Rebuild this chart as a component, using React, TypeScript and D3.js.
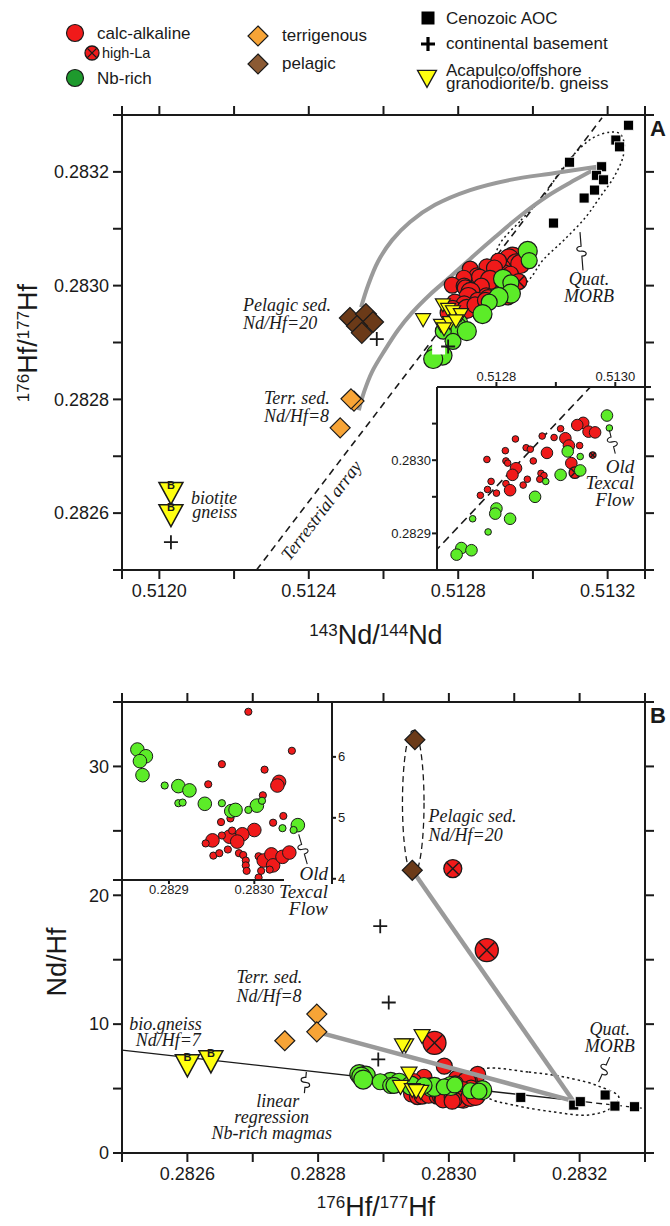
import React from "react";
import * as d3 from "d3";

type P2 = [number, number];
type P3 = [number, number, number];

// ================= Panel A : 143Nd/144Nd (x) vs 176Hf/177Hf (y) =================
// [Nd, Hf, large-symbol flag]
const calcAlkalineA: P3[] = [
  [0.512946, 0.283051, 1], [0.512936, 0.283048, 1], [0.512955, 0.283039, 1], [0.512966, 0.283038, 1],
  [0.512916, 0.28303, 1], [0.512922, 0.28302, 1], [0.512908, 0.283043, 0], [0.512877, 0.283033, 0],
  [0.512897, 0.283031, 0], [0.51294, 0.28302, 0], [0.512832, 0.283029, 0], [0.51285, 0.283017, 0],
  [0.512857, 0.283015, 0], [0.512885, 0.28301, 1], [0.512815, 0.283013, 0], [0.512784, 0.283001, 0],
  [0.512816, 0.282999, 0], [0.512819, 0.282996, 0], [0.512862, 0.282999, 0], [0.512926, 0.282996, 1],
  [0.512833, 0.282989, 1], [0.512827, 0.28298, 1], [0.512875, 0.282982, 0], [0.51288, 0.282979, 0],
  [0.512791, 0.282971, 0], [0.512852, 0.282974, 0], [0.512816, 0.282968, 0], [0.5128, 0.282955, 0],
  [0.512785, 0.28296, 0], [0.512773, 0.282952, 0], [0.512823, 0.282959, 1], [0.512845, 0.282966, 0],
  [0.512873, 0.282974, 0],
];
const highLaA: P3[] = [[0.512962, 0.283007, 0], [0.512932, 0.282983, 1]];
const nbRichA: P3[] = [
  [0.512986, 0.283061, 1], [0.51299, 0.283044, 0], [0.51292, 0.283012, 1], [0.512941, 0.283005, 0],
  [0.512941, 0.282986, 1], [0.512908, 0.28298, 1], [0.512883, 0.282971, 0], [0.512865, 0.28295, 1],
  [0.5128, 0.282934, 1], [0.512798, 0.282927, 1], [0.512823, 0.28292, 1], [0.51276, 0.28292, 0],
  [0.512786, 0.282902, 0], [0.512741, 0.28288, 1], [0.512758, 0.282877, 1], [0.512733, 0.282871, 1],
];
const acapulcoA: P2[] = [
  [0.512706, 0.282943], [0.512759, 0.282969], [0.512773, 0.282961], [0.512786, 0.282957],
  [0.512807, 0.282952], [0.512754, 0.282933], [0.512778, 0.282938], [0.512794, 0.282941],
  [0.512762, 0.282927],
];
const biotiteGneissA: P2[] = [[0.512031, 0.282641], [0.512031, 0.282602]];
const basementA: P2[] = [[0.512031, 0.282549], [0.512582, 0.282906], [0.512773, 0.282893]];
const aocA: P2[] = [
  [0.513256, 0.283282], [0.513222, 0.283256], [0.513232, 0.283244], [0.513098, 0.283217],
  [0.513184, 0.283209], [0.51317, 0.283194], [0.513189, 0.283186], [0.513165, 0.283168],
  [0.513137, 0.283154], [0.513055, 0.28311],
];
const terrigenousA: P2[] = [[0.512521, 0.282797], [0.512513, 0.282801], [0.512484, 0.28275]];
const pelagicA: P2[] = [
  [0.51251, 0.282943], [0.512553, 0.28295], [0.512572, 0.282936], [0.512529, 0.282929], [0.512542, 0.282917],
];
const pelagicMixA: P2[] = [
  [0.51254, 0.282962], [0.512559, 0.283001], [0.512585, 0.283042], [0.512623, 0.28308], [0.512671, 0.283112],
  [0.512738, 0.283142], [0.512832, 0.283168], [0.512939, 0.283186], [0.513059, 0.283198], [0.51318, 0.28321],
];
const terrMixA: P2[] = [
  [0.512534, 0.282781], [0.512548, 0.282813], [0.512569, 0.282848], [0.512604, 0.282887], [0.512639, 0.282922],
  [0.512676, 0.282952], [0.512724, 0.282984], [0.512778, 0.283015], [0.512837, 0.28305], [0.512898, 0.283085],
  [0.512965, 0.283122], [0.51304, 0.283158], [0.513113, 0.283186], [0.51318, 0.28321],
];
const morbFieldA: P2[] = [
  [0.512907, 0.283068], [0.512968, 0.283115], [0.513027, 0.283156], [0.513075, 0.283203], [0.513113, 0.283233],
  [0.513161, 0.28326], [0.513209, 0.28327], [0.513233, 0.283267], [0.513244, 0.283251], [0.513241, 0.283226],
  [0.513217, 0.283191], [0.51318, 0.283156], [0.513142, 0.283121], [0.513083, 0.28308], [0.513027, 0.283045],
  [0.512989, 0.28301], [0.512944, 0.282989], [0.512898, 0.283019],
];
const terrestrialArray: P2[] = [[0.51226, 0.2825], [0.513185, 0.283295]];

const ndTicksA = [0.5119, 0.512, 0.5122, 0.5124, 0.5126, 0.5128, 0.513, 0.5132, 0.5133];
const ndLabelsA = [0.512, 0.5124, 0.5128, 0.5132];
const hfTicksA = [0.2825, 0.2826, 0.2827, 0.2828, 0.2829, 0.283, 0.2831, 0.2832, 0.2833];
const hfLabelsA = [0.2826, 0.2828, 0.283, 0.2832];
const ndTicksInsetA = [0.5128, 0.5129, 0.513];
const ndLabelsInsetA = [0.5128, 0.513];
const hfTicksInsetA = [0.2829, 0.28295, 0.283, 0.28305];
const hfLabelsInsetA = [0.2829, 0.283];

// ================= Panel B : 176Hf/177Hf (x) vs Nd/Hf (y) =================
const calcAlkalineB: P3[] = [
  [0.282993, 6.74, 0], [0.283044, 6.1, 0], [0.282962, 5.88, 0], [0.283012, 5.79, 0], [0.282946, 5.55, 0],
  [0.283029, 5.59, 1], [0.283027, 5.53, 1], [0.28301, 5.37, 0], [0.283034, 5.03, 0], [0.283022, 4.92, 0],
  [0.282961, 4.93, 0], [0.282972, 4.99, 0], [0.283, 4.8, 1], [0.282986, 4.73, 1], [0.282971, 4.69, 1],
  [0.28298, 4.61, 1], [0.282951, 4.63, 1], [0.282943, 4.58, 0], [0.282962, 4.71, 0], [0.282974, 4.79, 0],
  [0.282952, 4.38, 0], [0.282959, 4.42, 0], [0.282969, 4.48, 0], [0.282982, 4.42, 0], [0.282987, 4.39, 0],
  [0.28299, 4.3, 0], [0.28299, 4.22, 0], [0.282991, 4.13, 0], [0.283005, 4.37, 0], [0.283011, 4.3, 1],
  [0.28302, 4.4, 1], [0.283022, 4.22, 1], [0.283018, 4.15, 0], [0.283008, 4.13, 0], [0.283005, 4.02, 0],
  [0.283033, 4.36, 1], [0.283041, 4.43, 1],
];
const highLaB: P3[] = [[0.283006, 22.07, 0], [0.283058, 15.74, 1], [0.282978, 8.55, 1]];
const nbRichB: P3[] = [
  [0.282863, 6.12, 1], [0.282873, 6.01, 1], [0.282866, 5.93, 1], [0.282869, 5.7, 1], [0.282911, 5.52, 1],
  [0.282924, 5.45, 1], [0.282942, 5.23, 1], [0.282973, 5.11, 1], [0.282978, 5.13, 1], [0.283003, 5.2, 1],
  [0.283051, 4.88, 1], [0.282895, 5.53, 0], [0.282911, 5.24, 0], [0.282916, 5.25, 0], [0.282962, 5.24, 0],
  [0.282993, 5.13, 0], [0.283009, 5.28, 0], [0.283033, 4.83, 0], [0.283046, 4.8, 0],
];
const acapulcoB: P2[] = [
  [0.282959, 9.22], [0.282934, 8.5], [0.282929, 8.5], [0.282939, 6.3], [0.282926, 5.27],
  [0.282944, 5.02], [0.282957, 4.88], [0.28295, 4.95],
];
const biotiteGneissB: P2[] = [[0.2826, 7.05], [0.282636, 7.36]];
const basementB: P2[] = [[0.282895, 17.6], [0.282908, 11.68], [0.282892, 7.26]];
const aocB: P2[] = [[0.28311, 4.32], [0.283191, 3.72], [0.283201, 3.98], [0.283239, 4.5], [0.283254, 3.64], [0.283284, 3.59]];
const terrigenousB: P2[] = [[0.282798, 10.78], [0.282798, 9.4], [0.282749, 8.71]];
const pelagicB: P2[] = [[0.282948, 32.07], [0.282944, 21.94]];
const pelagicMixB: P2[] = [[0.282944, 21.94], [0.28319, 4.05]];
const terrMixB: P2[] = [[0.282798, 9.4], [0.28319, 4.05]];
const regressionB: P2[] = [[0.2825, 7.98], [0.28321, 3.96], [0.2833, 3.45]];
const pelagicFieldB: P2[] = [[0.282929, 21.55], [0.282962, 32.8]];
const morbFieldB: P2[] = [
  [0.283049, 6.43], [0.283122, 6.28], [0.283185, 5.81], [0.283229, 5.19], [0.28326, 4.34], [0.283248, 3.49],
  [0.283214, 2.95], [0.283161, 3.18], [0.283099, 3.72], [0.283061, 4.26], [0.283043, 5.27],
];

const hfTicksB = [0.2825, 0.2826, 0.2827, 0.2828, 0.2829, 0.283, 0.2831, 0.2832, 0.2833];
const hfLabelsB = [0.2826, 0.2828, 0.283, 0.2832];
const ratioTicksB = [0, 5, 10, 15, 20, 25, 30, 35];
const ratioLabelsB = [0, 10, 20, 30];
const hfTicksInsetB = [0.2829, 0.283];
const ratioTicksInsetB = [4, 5, 6];

// ================= styles =================
const SANS = "'Liberation Sans', Arial, Helvetica, sans-serif";
const SERIF = "'Liberation Serif', 'Times New Roman', Times, serif";
const RED = "#f01a1a";
const GREEN = "#5cec28";
const LEG_GREEN = "#1e9a2d";
const YELLOW = "#ffff10";
const ORANGE = "#f7a436";
const BROWN = "#6b3a18";
const LEG_BROWN = "#8b5a33";
const GREY = "#9a9a9a";
const INK = "#1a1a1a";

const diamond = (s: number) => `M0,${-s}L${s},0L0,${s}L${-s},0Z`;
const triDown = (w: number, h: number) => `M${-w},${-h / 3}L${w},${-h / 3}L0,${(2 * h) / 3}Z`;
const plusPath = (s: number) => `M${-s},0H${s}M0,${-s}V${s}`;

function squiggle(x1: number, y1: number, x2: number, y2: number) {
  const dx = x2 - x1, dy = y2 - y1;
  const L = Math.hypot(dx, dy) || 1;
  const ux = dx / L, uy = dy / L, nx = -uy, ny = ux;
  const mx = (x1 + x2) / 2, my = (y1 + y2) / 2;
  const ax = mx - ux * 5, ay = my - uy * 5, bx = mx + ux * 5, by = my + uy * 5;
  return `M${x1},${y1}L${ax},${ay}C${ax + nx * 6},${ay + ny * 6} ${mx + nx * 6},${my + ny * 6} ${mx},${my}S${bx - nx * 6},${by - ny * 6} ${bx},${by}L${x2},${y2}`;
}

function HighLa({ x, y, r }: { x: number; y: number; r: number }) {
  const k = r * 0.66;
  return (
    <g transform={`translate(${x},${y})`}>
      <circle r={r} fill={RED} stroke={INK} strokeWidth={1.3} />
      <path d={`M${-k},${-k}L${k},${k}M${-k},${k}L${k},${-k}`} stroke={INK} strokeWidth={1.4} />
    </g>
  );
}

function BTri({ x, y }: { x: number; y: number }) {
  return (
    <g transform={`translate(${x},${y})`}>
      <path d={triDown(12, 22)} fill={YELLOW} stroke={INK} strokeWidth={1.5} />
      <text y={-1} textAnchor="middle" fontSize={11} fontWeight="bold" fill={INK} fontFamily={SANS}>B</text>
    </g>
  );
}

function Frame(props: any) {
  const { x0, x1, y0, y1, xs, ys, xt, yt, xl, yl, xFmt, yFmt } = props;
  const tick = 9;
  return (
    <g>
      <g stroke={INK} strokeWidth={2} fill="none">
        <rect x={x0} y={y0} width={x1 - x0} height={y1 - y0} />
        {xt.map((v: number, i: number) => (
          <g key={"x" + i}>
            <line x1={xs(v)} x2={xs(v)} y1={y0} y2={y0 - tick} />
            <line x1={xs(v)} x2={xs(v)} y1={y1} y2={y1 + tick} />
          </g>
        ))}
        {yt.map((v: number, i: number) => (
          <g key={"y" + i}>
            <line y1={ys(v)} y2={ys(v)} x1={x0} x2={x0 - tick} />
            <line y1={ys(v)} y2={ys(v)} x1={x1} x2={x1 + tick} />
          </g>
        ))}
      </g>
      <g fontFamily={SANS} fontSize={18} fill={INK}>
        {xl.map((v: number, i: number) => (
          <text key={"xl" + i} x={xs(v)} y={y1 + tick + 5} dy="0.71em" textAnchor="middle">{xFmt(v)}</text>
        ))}
        {yl.map((v: number, i: number) => (
          <text key={"yl" + i} x={x0 - tick - 4} y={ys(v)} dy="0.35em" textAnchor="end">{yFmt(v)}</text>
        ))}
      </g>
    </g>
  );
}

export default function App() {
  const xA = d3.scaleLinear().domain([0.5119, 0.5133]).range([122, 645]);
  const yA = d3.scaleLinear().domain([0.2825, 0.2833]).range([570, 115]);
  const xAi = d3.scaleLinear().domain([0.5127, 0.51305]).range([437, 645]);
  const yAi = d3.scaleLinear().domain([0.28285, 0.2831]).range([570, 387]);
  const xB = d3.scaleLinear().domain([0.2825, 0.2833]).range([122, 645]);
  const yB = d3.scaleLinear().domain([0, 35]).range([1153, 702]);
  const xBi = d3.scaleLinear().domain([0.282845, 0.283091]).range([122, 332]);
  const yBi = d3.scaleLinear().domain([3.98, 6.9]).range([880, 702]);

  const f4 = (v: number) => v.toFixed(4);
  const f0 = (v: number) => String(v);

  const lineA = d3.line<P2>().x((d) => xA(d[0])).y((d) => yA(d[1])).curve(d3.curveCatmullRom.alpha(0.5));
  const loopA = d3.line<P2>().x((d) => xA(d[0])).y((d) => yA(d[1])).curve(d3.curveCatmullRomClosed.alpha(0.5));
  const loopB = d3.line<P2>().x((d) => xB(d[0])).y((d) => yB(d[1])).curve(d3.curveCatmullRomClosed.alpha(0.5));
  const straightB = d3.line<P2>().x((d) => xB(d[0])).y((d) => yB(d[1]));

  // terrestrial array in pixels
  const ta0: P2 = [xA(terrestrialArray[0][0]), yA(terrestrialArray[0][1])];
  const ta1: P2 = [xA(terrestrialArray[1][0]), yA(terrestrialArray[1][1])];
  const taAngle = (Math.atan2(ta1[1] - ta0[1], ta1[0] - ta0[0]) * 180) / Math.PI;
  const taLabel: P2 = [xA(0.512433), yA(0.282605)];

  const annA = [
    { t: "Pelagic sed.", x: 0.512224, y: 0.282955 },
    { t: "Nd/Hf=20", x: 0.512224, y: 0.282924 },
    { t: "Terr. sed.", x: 0.51228, y: 0.282792 },
    { t: "Nd/Hf=8", x: 0.51228, y: 0.28276 },
    { t: "biotite", x: 0.512085, y: 0.282616 },
    { t: "gneiss", x: 0.512088, y: 0.282591 },
  ];
  const annB = [
    { t: "Pelagic sed.", x: 0.282969, y: 25.66 },
    { t: "Nd/Hf=20", x: 0.282969, y: 24.19 },
    { t: "Terr. sed.", x: 0.282675, y: 13.18 },
    { t: "Nd/Hf=8", x: 0.282675, y: 11.71 },
    { t: "bio.gneiss", x: 0.282511, y: 9.53 },
    { t: "Nd/Hf=7", x: 0.282521, y: 8.29 },
  ];

  const rBig = 9.5, rSmall = 8;
  const plusA = basementA[2];

  return (
    <svg width={670} height={1226} viewBox="0 0 670 1226"
      style={{ position: "absolute", left: 0, top: 0, background: "#fff" }} fontFamily={SANS}>
      <rect width={670} height={1226} fill="#fff" />
      <defs>
        <clipPath id="clipA"><rect x={122} y={115} width={523} height={455} /></clipPath>
        <clipPath id="clipAi"><rect x={437} y={387} width={208} height={183} /></clipPath>
        <clipPath id="clipB"><rect x={122} y={702} width={523} height={451} /></clipPath>
        <clipPath id="clipBi"><rect x={122} y={702} width={210} height={178} /></clipPath>
      </defs>

      {/* ---------------- Legend ---------------- */}
      <g fontSize={17} fill={INK}>
        <circle cx={75} cy={33} r={8.5} fill={RED} stroke={INK} strokeWidth={1.2} />
        <text x={97} y={33} dy="0.35em">calc-alkaline</text>
        <HighLa x={92} y={53} r={7} />
        <text x={102} y={53} dy="0.35em" fontSize={14.5}>high-La</text>
        <circle cx={75} cy={78} r={8.5} fill={LEG_GREEN} stroke={INK} strokeWidth={1.2} />
        <text x={97} y={78} dy="0.35em">Nb-rich</text>
        <path d={diamond(10)} transform="translate(258,36)" fill={ORANGE} stroke={INK} strokeWidth={1.2} />
        <text x={282} y={35} dy="0.35em">terrigenous</text>
        <path d={diamond(10)} transform="translate(258,64)" fill={LEG_BROWN} stroke={INK} strokeWidth={1.2} />
        <text x={282} y={63} dy="0.35em">pelagic</text>
        <rect x={421.5} y={11.5} width={13} height={13} fill="#000" />
        <text x={446} y={18} dy="0.35em">Cenozoic AOC</text>
        <path d={plusPath(7)} transform="translate(428,44)" stroke="#000" strokeWidth={3.2} />
        <text x={446} y={43} dy="0.35em">continental basement</text>
        <path d={triDown(9.5, 17)} transform="translate(427,76)" fill={YELLOW} stroke={INK} strokeWidth={1.3} />
        <text x={446} y={70} dy="0.35em">Acapulco/offshore</text>
        <text x={446} y={83.5} dy="0.35em">granodiorite/b. gneiss</text>
      </g>

      {/* ---------------- Panel A ---------------- */}
      <g clipPath="url(#clipA)">
        <line x1={ta0[0]} y1={ta0[1]} x2={ta1[0]} y2={ta1[1]} stroke={INK} strokeWidth={1.6} strokeDasharray="7,5" />
        <path d={loopA(morbFieldA) || ""} fill="none" stroke={INK} strokeWidth={1.5} strokeDasharray="2,3" />
        <path d={lineA(pelagicMixA) || ""} fill="none" stroke={GREY} strokeWidth={4} />
        <path d={lineA(terrMixA) || ""} fill="none" stroke={GREY} strokeWidth={4} />
      </g>
      <path d={squiggle(xA(0.513134), yA(0.283027), xA(0.513126), yA(0.283094))} fill="none" stroke={INK} strokeWidth={1.2} />
      {calcAlkalineA.map((d, i) => (
        <circle key={"ca" + i} cx={xA(d[0])} cy={yA(d[1])} r={d[2] ? rBig : rSmall} fill={RED} stroke={INK} strokeWidth={1.2} />
      ))}
      {highLaA.map((d, i) => <HighLa key={"hla" + i} x={xA(d[0])} y={yA(d[1])} r={d[2] ? rBig : rSmall} />)}
      {nbRichA.map((d, i) => (
        <circle key={"nb" + i} cx={xA(d[0])} cy={yA(d[1])} r={d[2] ? rBig : rSmall} fill={GREEN} stroke={INK} strokeWidth={1.2} />
      ))}
      {acapulcoA.map((d, i) => (
        <path key={"ac" + i} d={triDown(7.5, 13)} transform={`translate(${xA(d[0])},${yA(d[1])})`} fill={YELLOW} stroke={INK} strokeWidth={1.2} />
      ))}
      {terrigenousA.map((d, i) => (
        <path key={"tg" + i} d={diamond(10)} transform={`translate(${xA(d[0])},${yA(d[1])})`} fill={ORANGE} stroke={INK} strokeWidth={1.2} />
      ))}
      {pelagicA.map((d, i) => (
        <path key={"pg" + i} d={diamond(10.5)} transform={`translate(${xA(d[0])},${yA(d[1])})`} fill={BROWN} stroke={INK} strokeWidth={1.2} />
      ))}
      {biotiteGneissA.map((d, i) => <BTri key={"bg" + i} x={xA(d[0])} y={yA(d[1])} />)}
      <rect x={xA(plusA[0]) - 16} y={yA(plusA[1]) - 4} width={13} height={12} fill="#fff" />
      {basementA.map((d, i) => (
        <path key={"pl" + i} d={plusPath(7)} transform={`translate(${xA(d[0])},${yA(d[1])})`} stroke={INK} strokeWidth={1.8} />
      ))}
      {aocA.map((d, i) => (
        <rect key={"aoc" + i} x={xA(d[0]) - 5} y={yA(d[1]) - 5} width={10} height={10} fill="#000" stroke="#fff" strokeWidth={0.8} />
      ))}
      <g fontFamily={SERIF} fontStyle="italic" fontSize={18} fill={INK}>
        {annA.map((a, i) => <text key={"an" + i} x={xA(a.x)} y={yA(a.y)}>{a.t}</text>)}
        <text x={xA(0.51315)} y={yA(0.283001)} textAnchor="middle">Quat.</text>
        <text x={xA(0.51315)} y={yA(0.282971)} textAnchor="middle">MORB</text>
        <text x={taLabel[0]} y={taLabel[1]} dy="0.35em" textAnchor="middle"
          transform={`rotate(${taAngle},${taLabel[0]},${taLabel[1]})`}>Terrestrial array</text>
      </g>

      {/* Inset A */}
      <rect x={437} y={387} width={208} height={183} fill="#fff" />
      <g clipPath="url(#clipAi)">
        <line x1={xAi(terrestrialArray[0][0])} y1={yAi(terrestrialArray[0][1])} x2={xAi(terrestrialArray[1][0])} y2={yAi(terrestrialArray[1][1])}
          stroke={INK} strokeWidth={1.6} strokeDasharray="8,5" />
        {calcAlkalineA.map((d, i) => (
          <circle key={"cai" + i} cx={xAi(d[0])} cy={yAi(d[1])} r={d[2] ? 5.8 : 3.3} fill={RED} stroke={INK} strokeWidth={1} />
        ))}
        {highLaA.map((d, i) => <HighLa key={"hlai" + i} x={xAi(d[0])} y={yAi(d[1])} r={d[2] ? 5.8 : 3.3} />)}
        {nbRichA.map((d, i) => (
          <circle key={"nbi" + i} cx={xAi(d[0])} cy={yAi(d[1])} r={d[2] ? 5.8 : 3.3} fill={GREEN} stroke={INK} strokeWidth={1} />
        ))}
        <path d={squiggle(xAi(0.51299), yAi(0.283041), xAi(0.5130), yAi(0.283009))} fill="none" stroke={INK} strokeWidth={1.1} />
      </g>
      <g stroke={INK} strokeWidth={2}>
        <line x1={437} x2={651} y1={387} y2={387} />
        <line x1={437} x2={437} y1={387} y2={570} />
        {ndTicksInsetA.map((v, i) => <line key={"ait" + i} x1={xAi(v)} x2={xAi(v)} y1={387} y2={382} />)}
        {hfTicksInsetA.map((v, i) => <line key={"ail" + i} x1={437} x2={432} y1={yAi(v)} y2={yAi(v)} />)}
      </g>
      <g fontSize={13} fill={INK}>
        {ndLabelsInsetA.map((v, i) => <text key={"aitl" + i} x={xAi(v)} y={381} textAnchor="middle">{f4(v)}</text>)}
        {hfLabelsInsetA.map((v, i) => <text key={"aill" + i} x={431} y={yAi(v)} dy="0.35em" textAnchor="end">{f4(v)}</text>)}
      </g>
      <g fontFamily={SERIF} fontStyle="italic" fontSize={19} fill={INK} textAnchor="end">
        <text x={xAi(0.513032)} y={yAi(0.282982)}>Old</text>
        <text x={xAi(0.513032)} y={yAi(0.28296)}>Texcal</text>
        <text x={xAi(0.513032)} y={yAi(0.282937)}>Flow</text>
      </g>

      <Frame x0={122} x1={645} y0={115} y1={570} xs={xA} ys={yA} xt={ndTicksA} yt={hfTicksA} xl={ndLabelsA} yl={hfLabelsA} xFmt={f4} yFmt={f4} />
      <text x={650} y={136} fontSize={22} fontWeight="bold" fill={INK}>A</text>
      <text x={376} y={644} textAnchor="middle" fontSize={27} fill={INK}>
        <tspan fontSize={17} dy={-8}>143</tspan><tspan dy={8}>Nd/</tspan><tspan fontSize={17} dy={-8}>144</tspan><tspan dy={8}>Nd</tspan>
      </text>
      <text transform="translate(37,343) rotate(-90)" textAnchor="middle" fontSize={27} fill={INK}>
        <tspan fontSize={17} dy={-8}>176</tspan><tspan dy={8}>Hf/</tspan><tspan fontSize={17} dy={-8}>177</tspan><tspan dy={8}>Hf</tspan>
      </text>

      {/* ---------------- Panel B ---------------- */}
      <g clipPath="url(#clipB)">
        <path d={loopB(morbFieldB) || ""} fill="none" stroke={INK} strokeWidth={1.5} strokeDasharray="2.5,3" />
        <path d={straightB(regressionB.slice(0, 2)) || ""} fill="none" stroke={INK} strokeWidth={1.3} />
        <path d={straightB(regressionB.slice(1)) || ""} fill="none" stroke={INK} strokeWidth={1.3} strokeDasharray="6,4" />
        <ellipse cx={(xB(pelagicFieldB[0][0]) + xB(pelagicFieldB[1][0])) / 2} cy={(yB(pelagicFieldB[0][1]) + yB(pelagicFieldB[1][1])) / 2}
          rx={(xB(pelagicFieldB[1][0]) - xB(pelagicFieldB[0][0])) / 2} ry={(yB(pelagicFieldB[0][1]) - yB(pelagicFieldB[1][1])) / 2}
          fill="none" stroke={INK} strokeWidth={1.3} strokeDasharray="6,4" />
      </g>
      <path d={squiggle(xB(0.282779), yB(4.65), xB(0.282782), yB(6.3))} fill="none" stroke={INK} strokeWidth={1.2} />
      <path d={squiggle(xB(0.283246), yB(7.44), xB(0.283229), yB(5.5))} fill="none" stroke={INK} strokeWidth={1.2} />
      {calcAlkalineB.map((d, i) => (
        <circle key={"cb" + i} cx={xB(d[0])} cy={yB(d[1])} r={d[2] ? rBig : rSmall} fill={RED} stroke={INK} strokeWidth={1.2} />
      ))}
      {nbRichB.map((d, i) => (
        <circle key={"nbb" + i} cx={xB(d[0])} cy={yB(d[1])} r={d[2] ? rBig : rSmall} fill={GREEN} stroke={INK} strokeWidth={1.2} />
      ))}
      <path d={straightB(pelagicMixB) || ""} fill="none" stroke={GREY} strokeWidth={4.5} />
      <path d={straightB(terrMixB) || ""} fill="none" stroke={GREY} strokeWidth={4.5} />
      {highLaB.map((d, i) => <HighLa key={"hlb" + i} x={xB(d[0])} y={yB(d[1])} r={d[2] ? 11.5 : 9} />)}
      {acapulcoB.map((d, i) => (
        <path key={"acb" + i} d={triDown(8, 14)} transform={`translate(${xB(d[0])},${yB(d[1])})`} fill={YELLOW} stroke={INK} strokeWidth={1.2} />
      ))}
      {terrigenousB.map((d, i) => (
        <path key={"tgb" + i} d={diamond(10)} transform={`translate(${xB(d[0])},${yB(d[1])})`} fill={ORANGE} stroke={INK} strokeWidth={1.2} />
      ))}
      {pelagicB.map((d, i) => (
        <path key={"pgb" + i} d={diamond(10)} transform={`translate(${xB(d[0])},${yB(d[1])})`} fill={BROWN} stroke={INK} strokeWidth={1.2} />
      ))}
      {biotiteGneissB.map((d, i) => <BTri key={"bgb" + i} x={xB(d[0])} y={yB(d[1])} />)}
      {basementB.map((d, i) => (
        <path key={"plb" + i} d={plusPath(7)} transform={`translate(${xB(d[0])},${yB(d[1])})`} stroke={INK} strokeWidth={1.8} />
      ))}
      {aocB.map((d, i) => (
        <rect key={"aocb" + i} x={xB(d[0]) - 5} y={yB(d[1]) - 5} width={10} height={10} fill="#000" stroke="#fff" strokeWidth={0.8} />
      ))}
      <g fontFamily={SERIF} fontStyle="italic" fontSize={18} fill={INK}>
        {annB.map((a, i) => <text key={"anb" + i} x={xB(a.x)} y={yB(a.y)}>{a.t}</text>)}
        <text x={xB(0.283246)} y={yB(9.15)} textAnchor="middle">Quat.</text>
        <text x={xB(0.283246)} y={yB(7.83)} textAnchor="middle">MORB</text>
        <text x={xB(0.282729) + 6} y={yB(3.57)} textAnchor="middle">linear</text>
        <text x={xB(0.282729)} y={yB(2.33)} textAnchor="middle">regression</text>
        <text x={xB(0.282729)} y={yB(1.09)} textAnchor="middle">Nb-rich magmas</text>
      </g>

      {/* Inset B */}
      <rect x={122} y={702} width={210} height={178} fill="#fff" />
      <g clipPath="url(#clipBi)">
        {calcAlkalineB.map((d, i) => (
          <circle key={"cbi" + i} cx={xBi(d[0])} cy={yBi(d[1])} r={d[2] ? 6.8 : 3.6} fill={RED} stroke={INK} strokeWidth={1} />
        ))}
        {nbRichB.map((d, i) => (
          <circle key={"nbbi" + i} cx={xBi(d[0])} cy={yBi(d[1])} r={d[2] ? 6.8 : 3.6} fill={GREEN} stroke={INK} strokeWidth={1} />
        ))}
      </g>
      <path d={squiggle(xBi(0.283052), yBi(4.73), xBi(0.283062), yBi(4.24))} fill="none" stroke={INK} strokeWidth={1.1} />
      <g stroke={INK} strokeWidth={2}>
        <line x1={113} x2={284} y1={880} y2={880} />
        <line x1={332} x2={332} y1={702} y2={884} />
        {ratioTicksInsetB.map((v, i) => <line key={"bit" + i} x1={332} x2={336} y1={yBi(v)} y2={yBi(v)} />)}
        {hfTicksInsetB.map((v, i) => <line key={"bib" + i} x1={xBi(v)} x2={xBi(v)} y1={880} y2={884} />)}
      </g>
      <g fontSize={13} fill={INK}>
        {ratioTicksInsetB.map((v, i) => <text key={"bitl" + i} x={338} y={yBi(v)} dy="0.35em">{f0(v)}</text>)}
        {hfTicksInsetB.map((v, i) => <text key={"bibl" + i} x={xBi(v)} y={885} dy="0.71em" textAnchor="middle">{f4(v)}</text>)}
      </g>
      <g fontFamily={SERIF} fontStyle="italic" fontSize={19} fill={INK} textAnchor="end">
        <text x={xB(0.282815)} y={yB(21.16)}>Old</text>
        <text x={xB(0.282815)} y={yB(19.77)}>Texcal</text>
        <text x={xB(0.282815)} y={yB(18.45)}>Flow</text>
      </g>

      <Frame x0={122} x1={645} y0={702} y1={1153} xs={xB} ys={yB} xt={hfTicksB} yt={ratioTicksB} xl={hfLabelsB} yl={ratioLabelsB} xFmt={f4} yFmt={f0} />
      <text x={650} y={723} fontSize={22} fontWeight="bold" fill={INK}>B</text>
      <text x={376} y={1216} textAnchor="middle" fontSize={27} fill={INK}>
        <tspan fontSize={17} dy={-8}>176</tspan><tspan dy={8}>Hf/</tspan><tspan fontSize={17} dy={-8}>177</tspan><tspan dy={8}>Hf</tspan>
      </text>
      <text transform="translate(66,962) rotate(-90)" textAnchor="middle" fontSize={27} fill={INK}>Nd/Hf</text>
    </svg>
  );
}
